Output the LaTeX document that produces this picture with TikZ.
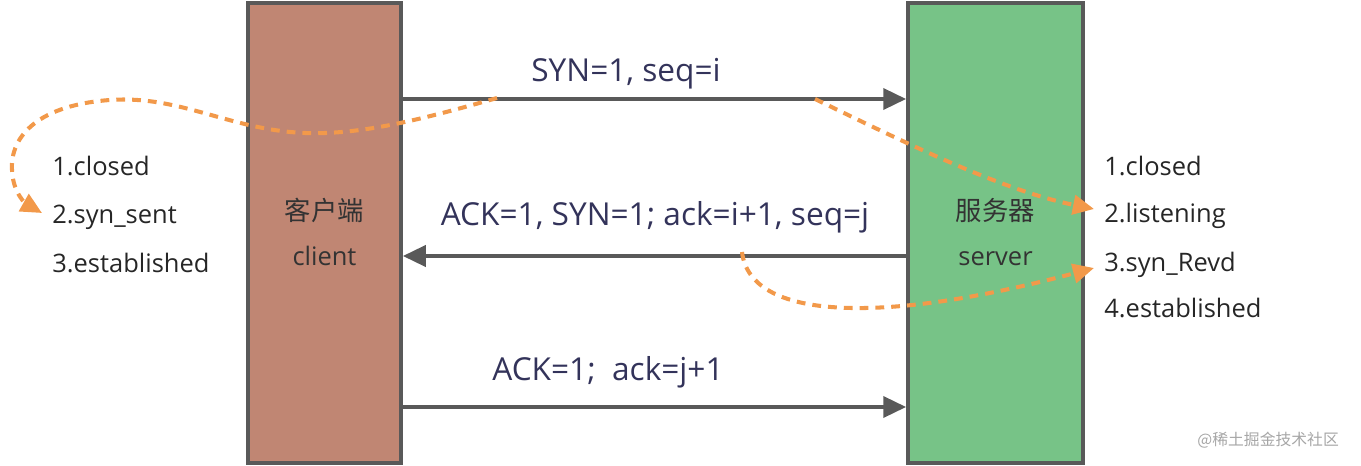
\documentclass[tikz,border=0pt]{standalone}
\usepackage{fontspec}
\setmainfont{Open Sans}
\newfontfamily\cjk{Noto Sans CJK SC}
\usepackage{tikz}
\usetikzlibrary{arrows.meta, positioning}

\definecolor{clientfill}{HTML}{C08673}
\definecolor{serverfill}{HTML}{77C387}
\definecolor{boxline}{HTML}{595959}
\definecolor{msgtext}{HTML}{33335A}
\definecolor{dashorange}{HTML}{F2994A}

\tikzset{
    party/.style={draw=boxline, line width=2.2pt, minimum height=9.2cm, align=center, inner sep=0pt},
    msg/.style={text=msgtext, font=\fontsize{18}{22}\selectfont, anchor=base},
    status/.style={text=black!85, font=\fontsize{14.5}{18}\selectfont, anchor=base west, inner sep=0pt},
    flow/.style={-{Triangle[length=13pt, width=12pt]}, draw=boxline, line width=2pt},
    hint/.style={-{Triangle[length=12pt, width=11pt]}, draw=dashorange, line width=2.3pt, dash pattern=on 5pt off 4pt}
}

\begin{document}
\begin{tikzpicture}[x=0.02cm, y=-0.02cm]
    \useasboundingbox (0,0) rectangle (1361,466);
    % the two parties
    \node[party, fill=clientfill, minimum width=3.06cm] (client) at (324.5,233) {};
    \node[party, fill=serverfill, minimum width=3.5cm] (server) at (995.5,233) {};
    \node[font=\fontsize{15}{18}\selectfont\cjk, text=black!80] (cname) at (324.5,210) {客户端};
    \node[font=\fontsize{14.5}{18}\selectfont, text=black!80, anchor=base] (cword) at (324.5,265) {client};
    \node[font=\fontsize{15}{18}\selectfont\cjk, text=black!80] (sname) at (995.5,210) {服务器};
    \node[font=\fontsize{14.5}{18}\selectfont, text=black!80, anchor=base] (sword) at (995.5,265) {server};

    % states
    \node[status] (c1) at (52,175) {1.closed};
    \node[status] (c2) at (52,223) {2.syn\_sent};
    \node[status] (c3) at (52,272) {3.established};
    \node[status] (s1) at (1104,175) {1.closed};
    \node[status] (s2) at (1104,222) {2.listening};
    \node[status] (s3) at (1104,271) {3.syn\_Revd};
    \node[status] (s4) at (1104,317) {4.established};

    % messages
    \node[msg] (syn) at (626,82) {SYN=1, seq=i};
    \node[msg] (synack) at (655,225) {ACK=1, SYN=1; ack=i+1, seq=j};
    \node[msg] (ack) at (608,380) {ACK=1;~ ack=j+1};

    \coordinate (a1) at (client.east |- 0,99);
    \coordinate (b1) at (server.west |- 0,99);
    \coordinate (a2) at (client.east |- 0,256);
    \coordinate (b2) at (server.west |- 0,256);
    \coordinate (a3) at (client.east |- 0,407);
    \coordinate (b3) at (server.west |- 0,407);
    \draw[flow] (a1) -- (b1);
    \draw[flow] (b2) -- (a2);
    \draw[flow] (a3) -- (b3);

    % state changes
    \coordinate (d1) at (497,98);
    \coordinate (d2) at (815,99);
    \coordinate (d3) at (742,252);
    \draw[hint] (d1) .. controls (420,120) and (360,135) .. (305,133)
        .. controls (230,130) and (180,95) .. (110,100)
        .. controls (40,105) and (10,135) .. (12,170)
        .. controls (13,195) and (28,205) .. ([shift={(-10,-10)}]c2.base west);
    \draw[hint] (d2) .. controls (900,140) and (1000,190) .. ([shift={(-10,-13)}]s2.base west);
    \draw[hint] (d3) .. controls (750,320) and (880,325) .. ([shift={(-10,-3)}]s3.base west);

    \node[font=\fontsize{9}{11}\selectfont\cjk, text=black!35, anchor=east] (mark) at (1345,440) {@稀土掘金技术社区};
\end{tikzpicture}
\end{document}
